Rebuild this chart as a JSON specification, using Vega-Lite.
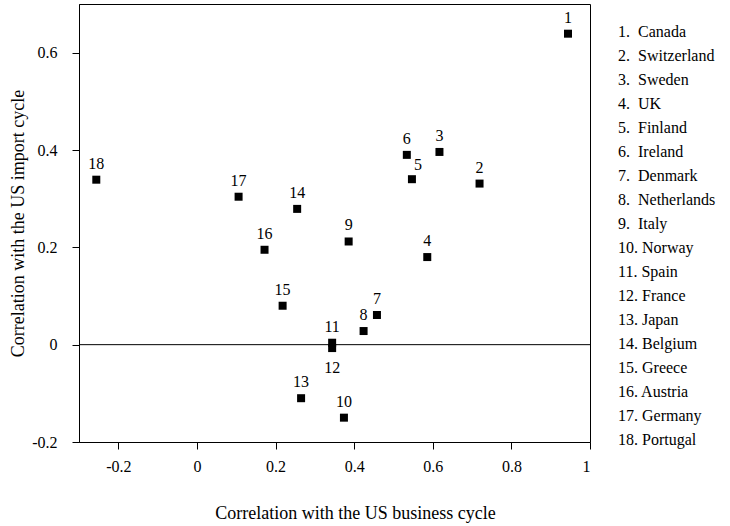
{
  "$schema": "https://vega.github.io/schema/vega-lite/v6.json",
  "width": 511,
  "height": 438,
  "autosize": "none",
  "padding": {"left": 79, "top": 4, "right": 140, "bottom": 84},
  "background": "white",
  "config": {
    "view": {"stroke": "black", "strokeWidth": 1},
    "font": "Liberation Serif",
    "axis": {
      "grid": false,
      "domainColor": "black",
      "tickColor": "black",
      "tickSize": 7,
      "labelFont": "Liberation Serif",
      "labelFontSize": 16,
      "labelColor": "black",
      "titleFont": "Liberation Serif",
      "titleFontSize": 18,
      "titleFontWeight": "normal",
      "titleColor": "black"
    }
  },
  "datasets": {
    "pts": [
      {"id": 1, "country": "Canada", "entry": "1. \u00a0Canada", "bus": 0.944, "imp": 0.639},
      {"id": 2, "country": "Switzerland", "entry": "2. \u00a0Switzerland", "bus": 0.719, "imp": 0.331},
      {"id": 3, "country": "Sweden", "entry": "3. \u00a0Sweden", "bus": 0.617, "imp": 0.396},
      {"id": 4, "country": "UK", "entry": "4. \u00a0UK", "bus": 0.586, "imp": 0.180},
      {"id": 5, "country": "Finland", "entry": "5. \u00a0Finland", "bus": 0.547, "imp": 0.340},
      {"id": 6, "country": "Ireland", "entry": "6. \u00a0Ireland", "bus": 0.534, "imp": 0.390},
      {"id": 7, "country": "Denmark", "entry": "7. \u00a0Denmark", "bus": 0.458, "imp": 0.061},
      {"id": 8, "country": "Netherlands", "entry": "8. \u00a0Netherlands", "bus": 0.424, "imp": 0.028},
      {"id": 9, "country": "Italy", "entry": "9. \u00a0Italy", "bus": 0.386, "imp": 0.212},
      {"id": 10, "country": "Norway", "entry": "10. Norway", "bus": 0.374, "imp": -0.150},
      {"id": 11, "country": "Spain", "entry": "11. Spain", "bus": 0.344, "imp": 0.004},
      {"id": 12, "country": "France", "entry": "12. France", "bus": 0.344, "imp": -0.007},
      {"id": 13, "country": "Japan", "entry": "13. Japan", "bus": 0.265, "imp": -0.110},
      {"id": 14, "country": "Belgium", "entry": "14. Belgium", "bus": 0.255, "imp": 0.279},
      {"id": 15, "country": "Greece", "entry": "15. Greece", "bus": 0.218, "imp": 0.080},
      {"id": 16, "country": "Austria", "entry": "16. Austria", "bus": 0.172, "imp": 0.195},
      {"id": 17, "country": "Germany", "entry": "17. Germany", "bus": 0.106, "imp": 0.304},
      {"id": 18, "country": "Portugal", "entry": "18. Portugal", "bus": -0.256, "imp": 0.339}
    ]
  },
  "data": {"name": "pts"},
  "encoding": {
    "x": {
      "field": "bus", "type": "quantitative",
      "scale": {"domain": [-0.3, 1.0], "nice": false, "zero": false},
      "axis": {
        "values": [-0.2, 0, 0.2, 0.4, 0.6, 0.8, 1],
        "format": "~g",
        "labelExpr": "replace(datum.label, '\u2212', '-')",
        "labelPadding": 9,
        "title": "Correlation with the US business cycle",
        "titleX": 276,
        "titleY": 71,
        "titleBaseline": "middle"
      }
    },
    "y": {
      "field": "imp", "type": "quantitative",
      "scale": {"domain": [-0.2, 0.7], "nice": false, "zero": false},
      "axis": {
        "values": [-0.2, 0, 0.2, 0.4, 0.6],
        "format": "~g",
        "labelExpr": "replace(datum.label, '\u2212', '-')",
        "labelPadding": 15,
        "title": "Correlation with the US import cycle",
        "titleX": -61,
        "titleBaseline": "middle"
      }
    }
  },
  "layer": [
    {
      "data": {"values": [{"zero": 0}]},
      "mark": {"type": "rule", "color": "black", "strokeWidth": 1},
      "encoding": {"y": {"field": "zero", "type": "quantitative"}, "x": null}
    },
    {
      "mark": {"type": "square", "size": 64, "opacity": 1},
      "encoding": {
        "color": {
          "field": "entry", "type": "nominal",
          "sort": {"field": "id", "op": "min"},
          "scale": {"range": ["#000000"]},
          "legend": {
            "orient": "none",
            "legendX": 523,
            "legendY": 20,
            "title": null,
            "symbolSize": 0,
            "symbolStrokeWidth": 0,
            "labelFont": "Liberation Serif",
            "labelFontSize": 16,
            "labelColor": "black",
            "labelOffset": 0,
            "rowPadding": 8,
            "symbolLimit": 50
          }
        }
      }
    },
    {
      "transform": [{"filter": "datum.id != 12 && datum.id != 5"}],
      "mark": {"type": "text", "dy": -16, "fontSize": 16, "font": "Liberation Serif", "color": "black", "baseline": "middle"},
      "encoding": {"text": {"field": "id", "type": "nominal"}}
    },
    {
      "transform": [{"filter": "datum.id == 5"}],
      "mark": {"type": "text", "dy": -14, "dx": 6, "fontSize": 16, "font": "Liberation Serif", "color": "black", "baseline": "middle"},
      "encoding": {"text": {"field": "id", "type": "nominal"}}
    },
    {
      "transform": [{"filter": "datum.id == 12"}],
      "mark": {"type": "text", "dy": 20, "fontSize": 16, "font": "Liberation Serif", "color": "black", "baseline": "middle"},
      "encoding": {"text": {"field": "id", "type": "nominal"}}
    }
  ]
}
